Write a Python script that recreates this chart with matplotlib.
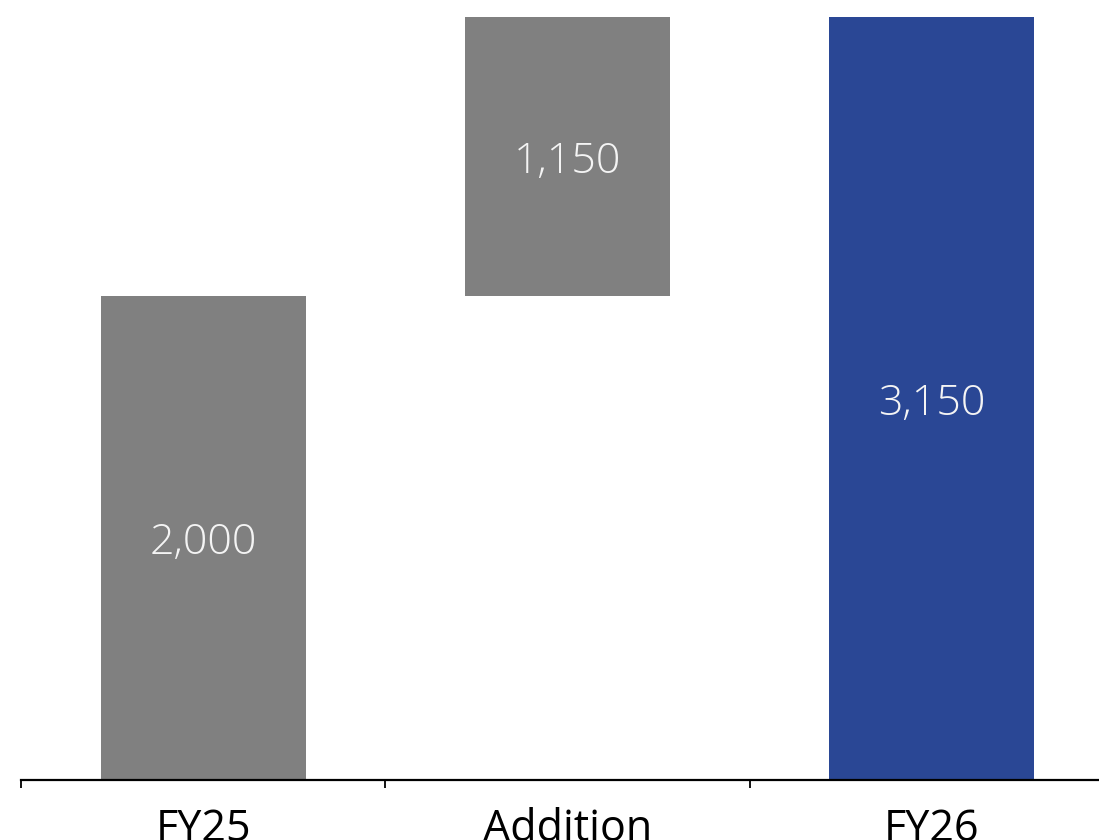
import matplotlib
matplotlib.use("Agg")
import matplotlib.pyplot as plt
import numpy as np

categories = ["FY25", "Addition", "FY26"]
values = [2000, 1150, 3150]
bar_colors = ["#808080", "#808080", "#2A4795"]

# waterfall bases: the addition sits on top of the opening value
bases = [0, values[0], 0]

plt.rcParams["font.family"] = ["Open Sans", "DejaVu Sans"]

fig = plt.figure(figsize=(10.99, 8.40), dpi=100)
ax = fig.add_axes([21 / 1099, 60 / 840, 1093 / 1099, 763 / 840])

x = np.arange(len(categories))
ax.bar(x, values, bottom=bases, width=0.5625, color=bar_colors, zorder=2)

for xi, v, b in zip(x, values, bases):
    ax.text(xi, b + v / 2, f"{v:,}", ha="center", va="center_baseline",
            color="#F4F4F4", fontsize=31, fontweight="light")

ax.set_xlim(-0.5, len(categories) - 0.5)
ax.set_ylim(0, max(v + b for v, b in zip(values, bases)))

for side in ("top", "right", "left"):
    ax.spines[side].set_visible(False)
ax.spines["bottom"].set_linewidth(1.6)
ax.spines["bottom"].set_color("black")
ax.yaxis.set_visible(False)

ax.set_xticks(x)
ax.set_xticklabels(categories, fontsize=31, color="black")
ax.tick_params(axis="x", which="major", length=0, pad=20)
ax.set_xticks(np.arange(len(categories) + 1) - 0.5, minor=True)
ax.tick_params(axis="x", which="minor", length=6, width=1.3, color="black")

fig.savefig("out.png", dpi=100)
